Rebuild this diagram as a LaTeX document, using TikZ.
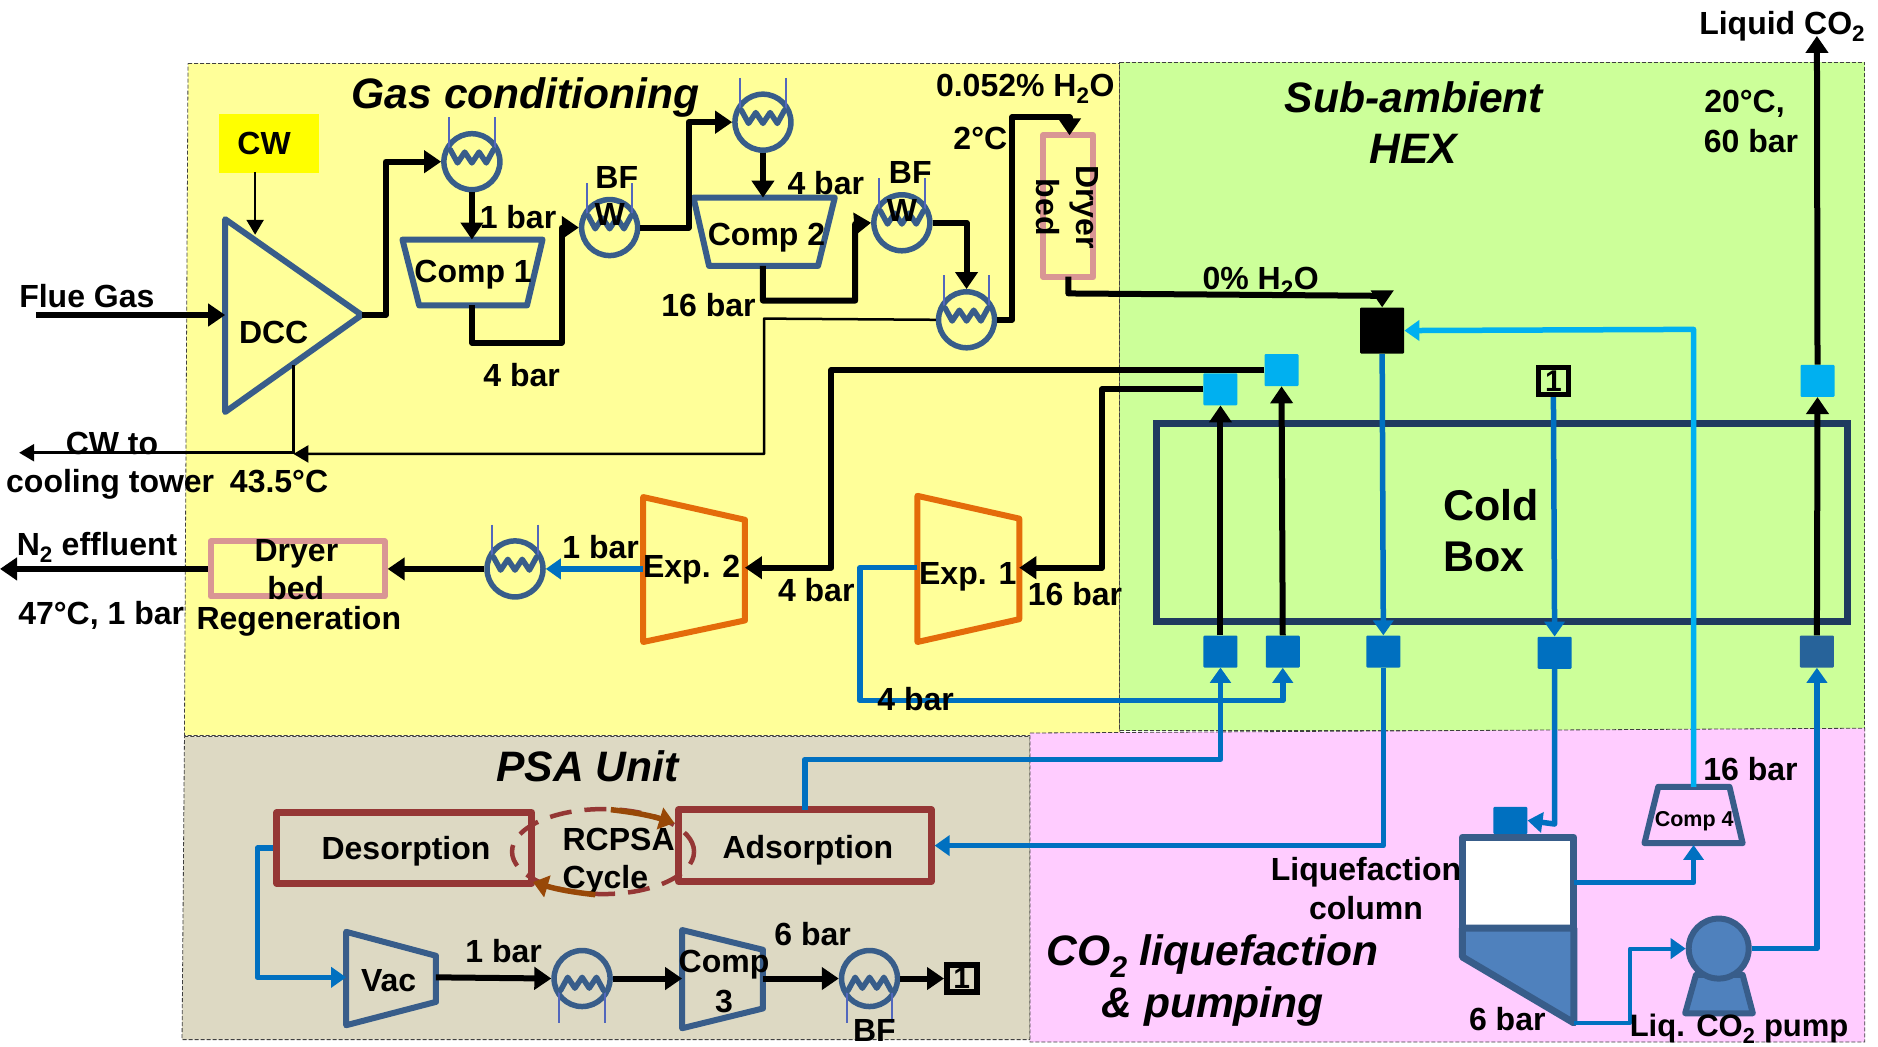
\documentclass[tikz,border=0pt]{standalone}
\usepackage{fontspec}
\setmainfont{Liberation Sans}
\usetikzlibrary{arrows.meta,calc,shapes.geometric}
\definecolor{regy}{HTML}{FFFF99}
\definecolor{regg}{HTML}{CCFF99}
\definecolor{regt}{HTML}{DDD9C3}
\definecolor{regp}{HTML}{FFCCFF}
\definecolor{cwy}{HTML}{FFFF00}
\definecolor{steel}{HTML}{385D8A}
\definecolor{fillb}{HTML}{4F81BD}
\definecolor{flowb}{HTML}{0070C0}
\definecolor{lightb}{HTML}{00B0F0}
\definecolor{redb}{HTML}{953735}
\definecolor{pinkb}{HTML}{D99694}
\definecolor{orangeb}{HTML}{E46C0A}
\definecolor{brownb}{HTML}{984807}
\definecolor{navyb}{HTML}{1F3A5F}
\tikzset{
 x=1.1977pt,y=-1.1977pt,
 region/.style={draw=black!75,line width=0.8pt,dash pattern=on 4pt off 2pt},
 lab/.style={font=\fontsize{32}{32}\selectfont\bfseries,inner sep=0pt,text=black},
 smalllab/.style={font=\fontsize{21.5}{21.5}\selectfont\bfseries,inner sep=0pt},
 title/.style={font=\fontsize{42.6}{42.6}\selectfont\bfseries\itshape,inner sep=0pt},
 bigbold/.style={font=\fontsize{43}{43}\selectfont\bfseries,inner sep=0pt},
 equip/.style={draw=steel,line width=6pt,line join=round},
 hxc/.style={circle,draw=steel,line width=5.5pt,minimum size=56pt,inner sep=0pt},
 hxzig/.style={draw=steel,line width=5.5pt,line join=round,line cap=round},
 hxthin/.style={draw=steel!70!blue!80!white,line width=1.8pt},
 expd/.style={draw=orangeb,line width=6pt,line join=round},
 dry/.style={draw=pinkb,line width=6pt,line join=round},
 bed/.style={draw=redb,line width=6.5pt,line join=round},
 flow/.style={draw=black,line width=6pt,line join=round,-{Triangle[length=17pt,width=22pt]}},
 flowthin/.style={draw=black,line width=2.5pt,line join=round,-{Triangle[length=15pt,width=17pt]}},
 thinline/.style={draw=black,line width=2.5pt,line join=round},
 bflow/.style={draw=flowb,line width=5.5pt,line join=round,-{Triangle[length=15pt,width=20pt]}},
 lbflow/.style={draw=lightb,line width=5.5pt,line join=round,-{Triangle[length=15pt,width=20pt]}},
 brownarr/.style={draw=brownb,line width=5.5pt,-{Triangle[length=15pt,width=22pt]}},
 sqd/.style={rectangle,rounded corners=1pt,fill=flowb,minimum width=34pt,minimum height=32pt,inner sep=0pt},
 sql/.style={rectangle,rounded corners=1pt,fill=lightb,minimum width=34pt,minimum height=32pt,inner sep=0pt},
 tagbox/.style={rectangle,draw=black,line width=5.5pt,minimum width=30pt,minimum height=27pt,inner sep=0pt,font=\fontsize{30}{30}\selectfont\bfseries},
}
% name, x, y, direction (1 = thin lines upward, -1 = downward)
\newcommand{\hxunit}[4]{%
 \node[hxc] (#1) at (#2,#3) {};
 \begin{scope}[shift={(#2,#3)},yscale=#4]
  \draw[hxthin] (-19,-37) -- (-19,-10);
  \draw[hxthin] (19,-37) -- (19,-10);
  \draw[hxzig] (-18,-10) -- (-12,1) -- (-6,-8) -- (0,1) -- (6,-8) -- (12,1) -- (18,-10);
 \end{scope}}
\begin{document}
\begin{tikzpicture}
\path[use as bounding box,fill=white] (0,0) rectangle (1568,873.4);
% regions
\draw[region,fill=regy] (157,53) -- (935,53) -- (935,614) -- (154,614) -- cycle;
\draw[region,fill=regg] (935,52) -- (1557,52) -- (1557,610) -- (935,610) -- cycle;
\draw[region,fill=regt] (154,615) -- (860,615) -- (860,868) -- (152,868) -- cycle;
\draw[region,fill=regp] (860,612) -- (1557,608) -- (1557,870) -- (860,870) -- cycle;
% titles
\node[title] (tgas) at (439,81) {Gas conditioning};
\node[title] (tsub) at (1180.5,81) {Sub-ambient};
\node[title] (thex) at (1180,124) {HEX};
\node[title] (tpsa) at (490.5,640) {PSA Unit};
\node[title] (tliq) at (1012.5,798) {CO\textsubscript{2} liquefaction};
\node[title] (tpum) at (1012.5,840) {\& pumping};
% CW box
\node[fill=cwy,minimum width=100pt,minimum height=59pt,inner sep=0pt] (cw) at (225,119.5) {};
\node[lab] (cwt) at (220.5,120) {CW};
% DCC
\draw[equip] (188,183) -- (302,263) -- (188,344) -- cycle;
\coordinate (dccin) at (188,263);
\coordinate (dccout) at (302,263);
\coordinate (dcctop) at (213,196);
\coordinate (cwbot) at (213,144);
\coordinate (dccbot) at (245,305);
\node[lab] (dcct) at (228.5,278) {DCC};
% compressors
\draw[equip] (336,200) -- (453,200) -- (440,255) -- (350,255) -- cycle;
\coordinate (c1top) at (394,200); \coordinate (c1bot) at (394,255);
\node[lab] (c1t) at (395,229) {Comp 1};
\draw[equip] (579,165) -- (697,165) -- (683,222) -- (592,222) -- cycle;
\coordinate (c2top) at (637,165); \coordinate (c2bot) at (637,222);
\node[lab] (c2t) at (640,198) {Comp 2};
% exchangers
\hxunit{hxa}{394}{135}{1}
\hxunit{hxb}{509}{190}{1}
\hxunit{hxc}{637}{102}{1}
\hxunit{hxd}{753}{186}{1}
\hxunit{hxe}{807}{267}{1}
\hxunit{hxf}{430}{475}{1}
\hxunit{hxg}{486}{817}{-1}
\hxunit{hxh}{726}{817}{-1}
% dryers
\node[dry,rectangle,minimum width=50pt,minimum height=142pt,inner sep=0pt] (dryA) at (892,172) {};
\node[dry,rectangle,minimum width=174pt,minimum height=55pt,inner sep=0pt] (dryB) at (248.5,475) {};
\coordinate (dryAin) at (893,113); \coordinate (dryAout) at (892,231);
\node[lab,rotate=-90] (dryA1) at (905,173) {Dryer};
\node[lab,rotate=-90] (dryA2) at (875,173) {bed};
\node[lab] (dryB1) at (247.5,462.5) {Dryer};
\node[lab] (dryB2) at (247,491) {bed};
\node[lab] (regen) at (249.5,519) {Regeneration};
% expanders
\draw[expd] (766,414) -- (851,433) -- (851,517) -- (766,536) -- cycle;
\coordinate (e1in) at (851,474); \coordinate (e1out) at (766,474);
\node[lab] (e1t) at (808,482) {Exp. 1};
\draw[expd] (537,415) -- (622,434) -- (622,518) -- (537,536) -- cycle;
\coordinate (e2in) at (622,474); \coordinate (e2out) at (537,475);
\node[lab] (e2t) at (577.5,476) {Exp. 2};
% cold box
\node[rectangle,draw=navyb,line width=7pt,minimum width=691pt,minimum height=198pt,inner sep=0pt] (cold) at (1254,436) {};
\node[bigbold] (coldt) at (1245,422) {Cold};
\node[bigbold] (boxt) at (1239,465) {Box};
% squares
\node[sql] (qa) at (1070,309) {};
\node[sql] (qb) at (1019,325) {};
\node[sql] (qc) at (1517.5,318) {};
\node[rectangle,rounded corners=1pt,fill=black,minimum width=44pt,minimum height=46pt,inner sep=0pt] (qk) at (1154,276) {};
\node[sqd] (sa) at (1019,544) {};
\node[sqd] (sb) at (1071,544) {};
\node[sqd] (sc) at (1155,544) {};
\node[sqd] (sd) at (1298,545) {};
\node[sqd,fill=steel!70!flowb] (se) at (1517,544) {};
\node[tagbox] (tagA) at (1297,318) {1};
\node[tagbox] (tagB) at (803,817) {1};
% thin cooling water
\draw[flowthin] (cwbot) -- (dcctop);
\draw[flowthin] (hxe.west) -- (638,266) -- (638,379) -- (245,379);
\draw[thinline] (dccbot) -- (245,379);
\coordinate (cwout) at (16,378);
\draw[flowthin] (245,378) -- (cwout);
% gas conditioning flows
\coordinate (flue) at (30,263);
\draw[flow] (flue) -- (dccin);
\draw[flow] (dccout) -- (322,263) -- (322,135) -- (hxa.west);
\draw[flow] (hxa.south) -- (c1top);
\draw[flow] (c1bot) -- (394,286) -- (469,286) -- (469,190) -- (hxb.west);
\draw[flow] (hxb.east) -- (575,190) -- (575,102) -- (hxc.west);
\draw[flow] (hxc.south) -- (c2top);
\draw[flow] (c2bot) -- (637,251) -- (714,251) -- (714,187) -- (hxd.west);
\draw[flow] (hxd.east) -- (807,186) -- (hxe.north);
\draw[flow] (hxe.east) -- (845,267) -- (845,98) -- (893,98) -- (dryAin);
\draw[flow] (dryAout) -- (892,245) -- (1154,247) -- (qk.north);
% cold box flows
\draw[flow] (qa.west) -- (694,309) -- (694,474) -- (e2in);
\draw[flow] (qb.west) -- (920,325) -- (920,474) -- (e1in);
\draw[flow] (sa.north) -- (qb.south);
\draw[flow] (sb.north) -- (qa.south);
\draw[flow] (se.north) -- (qc.south);
\coordinate (liqco) at (1517,30);
\draw[flow] (qc.north) -- (liqco);
% expander outflows
\draw[bflow] (e2out) -- (hxf.east);
\draw[flow] (hxf.west) -- (dryB.east);
\coordinate (neff) at (0,475);
\draw[flow] (dryB.west) -- (neff);
\draw[bflow] (e1out) -- (718,474) -- (718,585) -- (1071,585) -- (sb.south);
\draw[bflow] (1019,585) -- (sa.south);
% blue lines
\draw[bflow] (qk.south) -- (sc.north);
\draw[bflow] (tagA.south) -- (sd.north);
% PSA
\node[rectangle,bed,minimum width=255pt,minimum height=71pt,inner sep=0pt] (des) at (337.5,708) {};
\node[rectangle,bed,minimum width=253pt,minimum height=72pt,inner sep=0pt] (ads) at (672,706) {};
\node[lab] (dest) at (339,711) {Desorption};
\node[lab] (adst) at (674.5,710) {Adsorption};
\node[draw=redb,line width=4.5pt,dash pattern=on 22pt off 13pt,ellipse,inner sep=0pt,minimum width=182pt,minimum height=85pt] (cyc) at (503.5,711) {};
\node[lab] (rc1) at (516.5,701) {RCPSA};
\node[lab] (rc2) at (505.5,735) {Cycle};
\coordinate (ba1) at (510,676); \coordinate (ba2) at (563,687);
\coordinate (bb1) at (497,747); \coordinate (bb2) at (445,736.5);
\draw[brownarr] (ba1) to[bend left=5] (ba2);
\draw[brownarr] (bb1) to[bend left=5] (bb2);
\coordinate (adstop) at (672,676);
\draw[bflow] (adstop) -- (672,634) -- (1019,634) -- (sa.south);
\draw[bflow] (sc.south) -- (1155,706) -- (ads.east);
% Vac and Comp 3
\draw[equip] (289,778) -- (364,798) -- (364,836.5) -- (289,856) -- cycle;
\coordinate (vacin) at (289,816); \coordinate (vacout) at (364,816);
\node[lab] (vact) at (324.5,819) {Vac};
\draw[equip] (569.5,776.5) -- (637,793) -- (637,842) -- (569.5,858.5) -- cycle;
\coordinate (c3in) at (569.5,817); \coordinate (c3out) at (637,817);
\node[lab] (c3a) at (604.5,805) {Comp};
\node[lab] (c3b) at (604.5,836) {3};
\draw[bflow] (des.west) -- (215,708) -- (215,816) -- (vacin);
\draw[flow] (vacout) -- (hxg.west);
\draw[flow] (hxg.east) -- (c3in);
\draw[flow] (c3out) -- (hxh.west);
\draw[flow] (hxh.east) -- (tagB.west);
% liquefaction column
\draw[draw=steel,line width=7pt,fill=white,line join=round] (1221,699) rectangle (1314,775);
\draw[draw=steel,line width=7pt,fill=fillb,line join=round] (1221,775) -- (1314,775) -- (1314,854) -- (1221,799) -- cycle;
\node[rectangle,rounded corners=1pt,fill=flowb,minimum width=34pt,minimum height=27pt,inner sep=0pt] (sf) at (1261,685) {};
\coordinate (colside) at (1314,737);
\coordinate (colbot) at (1314,854);
\draw[bflow] (sd.south) -- (1298,688) -- (sf.east);
% Comp 4
\draw[equip] (1384.5,657) -- (1444,657) -- (1455,704) -- (1373,704) -- cycle;
\coordinate (c4top) at (1414,657); \coordinate (c4bot) at (1414,705.5);
\node[smalllab] (c4t) at (1414.5,686) {Comp 4};
\draw[bflow] (colside) -- (1414,737) -- (c4bot);
\draw[lbflow] (c4top) -- (1414,275) -- (qk.east);
% pump
\draw[draw=steel,line width=6pt,fill=fillb,line join=round] (1416,814) -- (1455,814) -- (1463.5,846) -- (1407,846) -- cycle;
\node[circle,draw=steel,line width=6pt,fill=fillb,minimum size=60pt,inner sep=0pt] (pump) at (1435,792) {};
\draw[bflow,line width=4pt] (colbot) -- (1361,854) -- (1361,792) -- (pump.west);
\draw[bflow] (pump.east) -- (1517,792) -- (se.south);
% labels
\node[lab] (l01) at (72.5,247) {Flue Gas};
\node[lab] (l02) at (432.5,181) {1 bar};
\node[lab] (l03) at (515,148) {BF};
\node[lab] (l04) at (509,179) {W};
\node[lab] (l05) at (435.5,313) {4 bar};
\node[lab] (l06) at (689.5,153) {4 bar};
\node[lab] (l07) at (591.5,255) {16 bar};
\node[lab] (l08) at (760,144) {BF};
\node[lab] (l09) at (753,176) {W};
\node[lab] (l10) at (856,74) {0.052\% H\textsubscript{2}O};
\node[lab] (l11) at (818.5,116) {2°C};
\node[lab] (l12) at (1052.5,235) {0\% H\textsubscript{2}O};
\node[lab] (l13) at (1488,22) {Liquid CO\textsubscript{2}};
\node[lab] (l14) at (1456.5,87) {20°C,};
\node[lab] (l15) at (1462,118) {60 bar};
\node[lab] (l16) at (93.5,370) {CW to};
\node[lab] (l17) at (92,404) {cooling tower};
\node[lab] (l18) at (233,402) {43.5°C};
\node[lab] (l19) at (81,457) {N\textsubscript{2} effluent};
\node[lab] (l20) at (84.5,514) {47°C, 1 bar};
\node[lab] (l21) at (501.5,457) {1 bar};
\node[lab] (l22) at (681.5,493) {4 bar};
\node[lab] (l23) at (897.5,496) {16 bar};
\node[lab] (l24) at (764.5,584) {4 bar};
\node[lab] (l25) at (420.5,794) {1 bar};
\node[lab] (l26) at (678.5,780) {6 bar};
\node[lab] (l27) at (730,860) {BF};
\node[lab] (l28) at (1140.5,728) {Liquefaction};
\node[lab] (l29) at (1140.5,758) {column};
\node[lab] (l30) at (1258.5,851) {6 bar};
\node[lab,font=\fontsize{31}{31}\selectfont\bfseries] (l31) at (1452,859) {Liq. CO\textsubscript{2} pump};
\node[lab] (l32) at (1461.5,642) {16 bar};
\end{tikzpicture}
\end{document}
